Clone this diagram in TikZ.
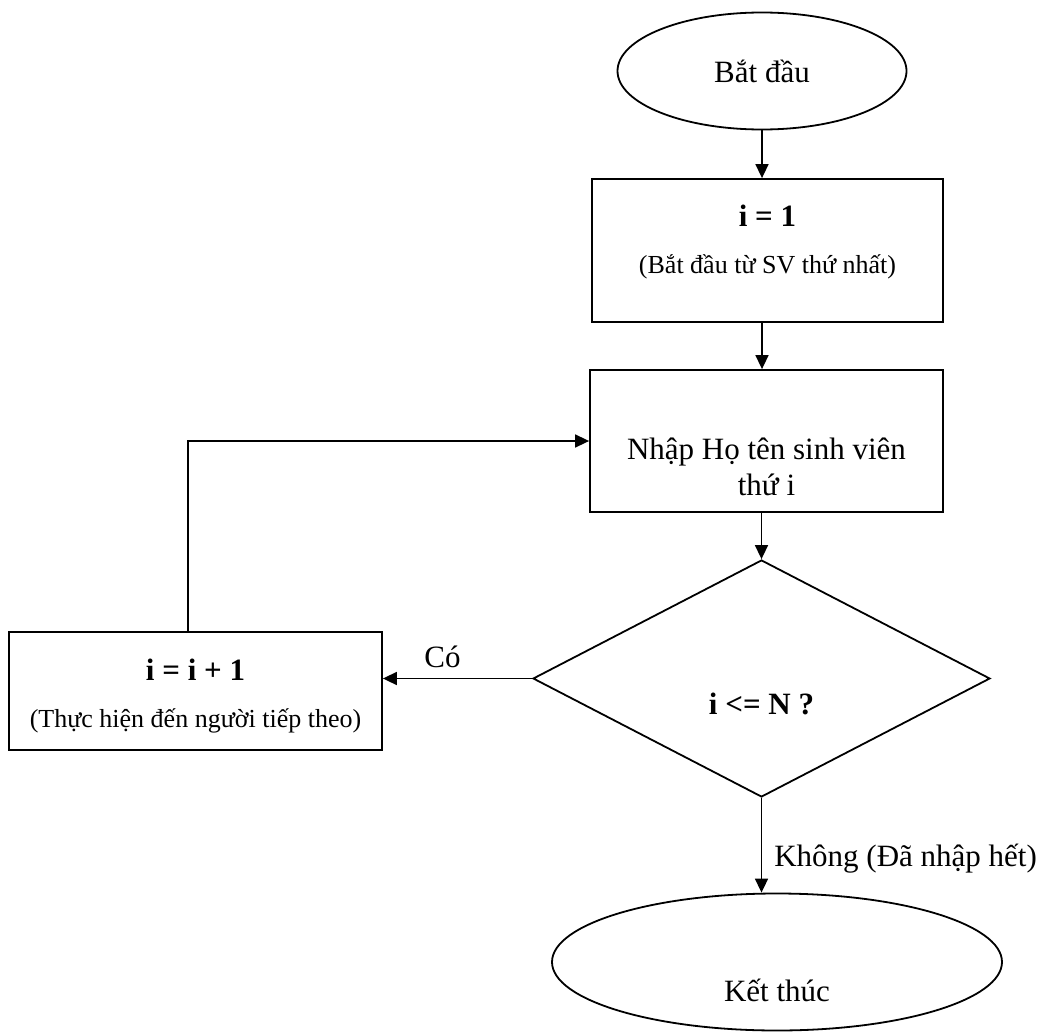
\documentclass[tikz,border=0pt]{standalone}
\usepackage{fontspec}
\setmainfont{Liberation Serif}
\usetikzlibrary{shapes.geometric,arrows.meta}
\newcommand\bigtxt{\fontsize{31}{36}\selectfont}
\newcommand\smalltxt{\fontsize{26}{30}\selectfont}

\begin{document}
\begin{tikzpicture}[x=1pt,y=-1pt,
  every node/.style={font=\bigtxt},
  terminal/.style={draw, ellipse, line width=1.8pt, inner sep=0pt},
  process/.style={draw, rectangle, line width=1.8pt, inner sep=0pt},
  decision/.style={draw, diamond, line width=1.8pt, inner sep=0pt},
  flow/.style={line width=1.6pt, -{Triangle[length=14pt,width=13pt]}},
  edgetext/.style={inner sep=0pt}]
\useasboundingbox (0,0) rectangle (1044,1033);

% flowchart blocks (texts placed as centre labels so they can sit off the middle)
\node[terminal, minimum width=289pt, minimum height=117pt] (start) at (762,71) {Bắt đầu};
\node[process, minimum width=351pt, minimum height=143pt,
  label={[yshift=8pt, align=center]center:{\textbf{i = 1}\\[11pt]{\smalltxt (Bắt đầu từ SV thứ nhất)}}}]
  (init) at (767.5,250.5) {};
\node[process, minimum width=353pt, minimum height=142pt,
  label={[yshift=-26pt, align=center]center:{Nhập Họ tên sinh viên\\thứ i}}] (input) at (766.5,441) {};
\node[decision, minimum width=457pt, minimum height=237pt,
  label={[yshift=-25pt, font=\bigtxt\bfseries]center:{i <= N ?}}] (dec) at (761.5,678.5) {};
\node[process, minimum width=373pt, minimum height=118pt,
  label={[yshift=-5pt, align=center]center:{\textbf{i = i + 1}\\[11pt]{\smalltxt (Thực hiện đến người tiếp theo)}}}]
  (incr) at (195.5,691) {};
\node[terminal, minimum width=450pt, minimum height=137pt,
  label={[yshift=-28pt]center:Kết thúc}] (stop) at (777,962) {};

% connectors
\coordinate (bend) at (188,441);
\draw[flow] (start.south) -- (start.south |- init.north);
\draw[flow] (start.south |- init.south) -- (start.south |- input.north);
\draw[flow] (dec.north |- input.south) -- (dec.north);
\draw[flow] (dec.west) -- (dec.west -| incr.east)
  node[pos=0.6, yshift=22pt] (yes) {Có};
\draw[flow] (bend |- incr.north) -- (bend) -- (input.west);
\draw[flow] (dec.south) -- (dec.south |- stop.north)
  node[pos=0.64, anchor=west, xshift=12pt, edgetext] (no) {Không (Đã nhập hết)};
\end{tikzpicture}
\end{document}
